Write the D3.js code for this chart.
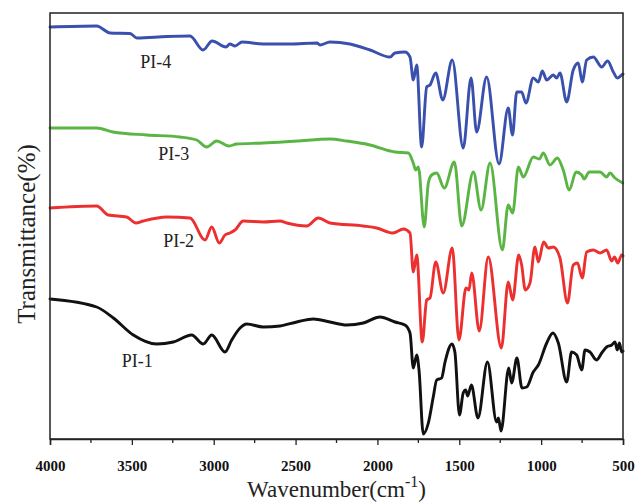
<!DOCTYPE html>
<html>
<head>
<meta charset="utf-8">
<script src="https://cdn.jsdelivr.net/npm/d3@7"></script>
<style>
  html, body { margin: 0; padding: 0; background: #fff; }
  svg { display: block; }
</style>
</head>
<body>
<svg id="chart" width="636" height="504"></svg>
<script>
// ---- Data (wavenumber cm^-1, offset transmittance in arbitrary units) ----
const seriesNames = ["PI-1", "PI-2", "PI-3", "PI-4"];
const seriesColors = ["#111111", "#ec2f2f", "#5ab544", "#3a50ad"];

const pi4 = [
  [4000,412],[3715,413],[3633,406],[3511,405.5],[3469,401],[3285,402.5],[3145,403],[3065,389],
  [3010,398],[2925,392],[2901,395],[2870,393],[2827,397],[2699,395],[2534,395],[2369,396],
  [2351,394],[2290,397],[2168,395],[2045,389],[1923,382],[1893,386],[1832,387],[1801,382],
  [1781,359],[1760,374],[1730,292],[1699,352],[1679,354],[1644,366],[1601,339],[1543,379],
  [1476,291],[1428,361],[1394,307],[1333,362],[1257,275],[1201,331],[1175,304],[1149,347],
  [1119,347],[1093,336],[1048,361],[1017,357],[993,368],[966,359],[926,364],[905,361],
  [885,366],[844,337],[804,369],[773,376],[749,357],[722,379],[681,382],[630,372],
  [594,378],[559,367],[535,361],[508,364],[500,365]
];
const pi3 = [
  [4000,311],[3715,311],[3615,307],[3409,304],[3206,302],[3104,299],[3043,292],[2982,298],
  [2907,293],[2860,295],[2697,296],[2493,298],[2290,300],[2188,298],[2045,294],[1923,288],
  [1893,287],[1811,286],[1781,276],[1766,269],[1750,272],[1714,212],[1689,256],[1669,264],
  [1638,266],[1592,251],[1530,277],[1485,213],[1414,267],[1367,229],[1312,276],[1237,189],
  [1201,234],[1174,226],[1139,272],[1109,262],[1048,282],[1011,280],[987,286],[946,274],
  [901,281],[865,269],[828,249],[787,267],[752,264],[738,260],[706,267],[640,267],
  [600,262],[580,266],[549,261],[502,256]
];
const pi2 = [
  [4000,231],[3715,233],[3644,224],[3532,222],[3475,216],[3430,218],[3287,222],[3145,221],
  [3053,199],[3012,212],[2966,196],[2931,204],[2901,206],[2870,209],[2819,218],[2697,217],
  [2595,218],[2554,216],[2432,213],[2361,221],[2290,216],[2086,213],[2005,211],[1905,206],
  [1841,210],[1801,206],[1781,167],[1760,184],[1726,97],[1699,139],[1679,141],[1644,177],
  [1598,146],[1543,191],[1502,99],[1459,151],[1441,149],[1424,166],[1378,108],[1323,182],
  [1243,91],[1201,157],[1174,139],[1137,184],[1119,174],[1097,149],[1068,156],[1038,192],
  [1017,177],[985,197],[956,191],[926,192],[885,181],[839,136],[804,174],[778,176],
  [749,161],[722,187],[681,189],[640,186],[600,189],[569,178],[552,182],[532,176],
  [508,184],[500,183]
];
const pi1 = [
  [4000,140],[3715,132],[3613,121],[3491,104],[3348,95],[3247,97],[3135,104],[3064,95],
  [3012,104],[2931,87],[2890,99],[2839,111],[2798,115],[2697,112],[2595,113],[2493,117],
  [2392,120],[2290,117],[2188,114],[2086,116],[1984,122],[1893,117],[1832,114],[1801,106],
  [1781,71],[1760,84],[1746,69],[1720,5],[1689,16],[1659,42],[1638,59],[1608,61],
  [1587,77],[1545,95],[1527,87],[1499,24],[1476,46],[1461,49],[1449,43],[1426,54],
  [1386,21],[1328,77],[1272,17],[1261,21],[1245,8],[1198,71],[1180,56],[1148,81],
  [1117,51],[1088,52],[1048,67],[1017,74],[966,96],[928,106],[895,96],[844,57],
  [814,87],[783,84],[752,69],[732,89],[702,87],[662,79],[630,86],[600,92],
  [569,94],[549,97],[535,89],[522,96],[508,87],[500,88]
];
const seriesData = [pi1, pi2, pi3, pi4];

// label anchor positions in data units [wavenumber, transmittance]
const labelAnchors = [[3562, 72], [3309, 192], [3339, 279], [3449, 371]];

const xTicks = [4000, 3500, 3000, 2500, 2000, 1500, 1000, 500];
const xMinorTicks = [3750, 3250, 2750, 2250, 1750, 1250, 750];

// ---- Layout ----
const svg = d3.select("#chart");
const margin = {left: 50, right: 13, top: 13, bottom: 65};
const W = 636, H = 504;
const x0 = margin.left, x1 = W - margin.right, y0 = margin.top, y1 = H - margin.bottom;

const x = d3.scaleLinear().domain([4000, 500]).range([x0, x1]);
const y = d3.scaleLinear().domain([0, 426]).range([y1, y0]);

const serif = "'Liberation Serif', 'Times New Roman', Times, serif";

// lines
const line = d3.line()
  .x(d => x(d[0]))
  .y(d => y(d[1]))
  .curve(d3.curveMonotoneX);

svg.append("g").selectAll("path")
  .data(seriesData)
  .join("path")
  .attr("d", d => line(d))
  .attr("fill", "none")
  .attr("stroke", (d, i) => seriesColors[i])
  .attr("stroke-width", 2.9)
  .attr("stroke-linejoin", "round")
  .attr("stroke-linecap", "round");

// frame
svg.append("rect")
  .attr("x", x0).attr("y", y0)
  .attr("width", x1 - x0).attr("height", y1 - y0)
  .attr("fill", "none")
  .attr("stroke", "#222")
  .attr("stroke-width", 1.5);

// bottom axis
const xAxis = d3.axisBottom(x)
  .tickValues(xTicks)
  .tickFormat(d3.format("d"))
  .tickSize(6)
  .tickPadding(15);
const gx = svg.append("g")
  .attr("transform", `translate(0,${y1})`)
  .call(xAxis);
gx.select(".domain").attr("stroke", "#222").attr("stroke-width", 1.5);
gx.selectAll(".tick line").attr("stroke", "#222").attr("stroke-width", 1.3);
gx.selectAll(".tick text")
  .attr("font-family", serif)
  .attr("font-weight", "bold")
  .attr("font-size", 15)
  .attr("fill", "#111");

svg.append("g").selectAll("line")
  .data(xMinorTicks)
  .join("line")
  .attr("x1", d => x(d)).attr("x2", d => x(d))
  .attr("y1", y1).attr("y2", y1 + 4)
  .attr("stroke", "#222").attr("stroke-width", 1.3);

// series labels
svg.append("g").selectAll("text")
  .data(seriesNames)
  .join("text")
  .attr("x", (d, i) => x(labelAnchors[i][0]))
  .attr("y", (d, i) => y(labelAnchors[i][1]))
  .attr("font-family", serif)
  .attr("font-size", 18)
  .attr("fill", "#222")
  .text(d => d);

// axis titles
const xt = svg.append("text")
  .attr("x", (x0 + x1) / 2)
  .attr("y", 497)
  .attr("text-anchor", "middle")
  .attr("font-family", serif)
  .attr("font-size", 23)
  .attr("fill", "#222");
xt.append("tspan").text("Wavenumber(cm");
xt.append("tspan").attr("dy", -10).attr("font-size", 16).text("-1");
xt.append("tspan").attr("dy", 10).text(")");

svg.append("text")
  .attr("transform", `translate(35,${(y0 + y1) / 2 + 8}) rotate(-90)`)
  .attr("text-anchor", "middle")
  .attr("font-family", serif)
  .attr("font-size", 25)
  .attr("fill", "#222")
  .text("Transmittance(%)");
</script>
</body>
</html>
